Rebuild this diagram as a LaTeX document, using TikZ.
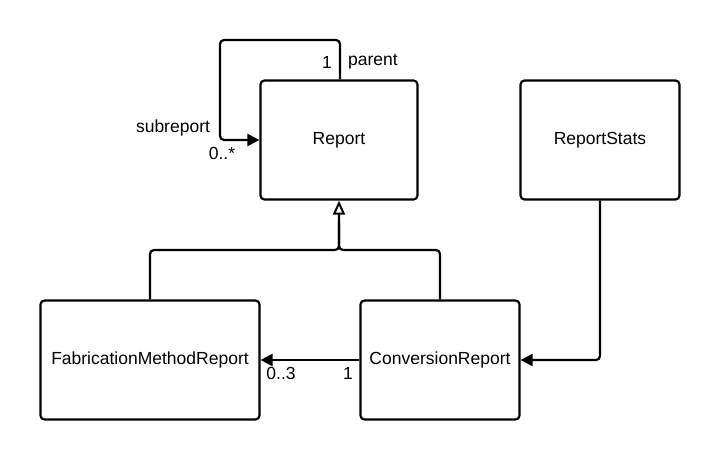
\documentclass[tikz,border=0pt]{standalone}
\usepackage{fontspec}
\setmainfont{Liberation Sans}
\usetikzlibrary{arrows.meta}
\begin{document}
\begin{tikzpicture}[x=1pt,y=-1pt,
  cls/.style={draw,line width=2.2pt,rounded corners=4pt,minimum height=119pt,inner sep=0pt,font=\fontsize{17.5}{21}\selectfont,fill=white},
  conn/.style={line width=2.2pt,rounded corners=4pt},
  lbl/.style={font=\fontsize{17.5}{21}\selectfont,inner sep=0pt},
  assoc/.style={conn,-{Triangle[length=12pt,width=12pt]}},
  gen/.style={conn,-{Triangle[open,length=14pt,width=12pt,line width=2pt]}}]
\useasboundingbox (0,0) rectangle (720,460);
\fill[white] (0,0) rectangle (720,460);
\node[cls,minimum width=157pt] (report) at (339,140) {Report};
\node[cls,minimum width=159pt] (stats) at (600,140) {ReportStats};
\node[cls,minimum width=219pt] (fab) at (150,360) {FabricationMethodReport};
\node[cls,minimum width=159pt] (conv) at (440,360) {ConversionReport};
\coordinate (lt) at (220,40);
\coordinate (j) at (339,250);
\coordinate (jt) at (339,222);
% self association
\draw[assoc] ([xshift=1pt]report.north) |- (lt) |- (report.west);
% generalization
\draw[gen] (fab.north) |- (j) -- (report.south);
\draw[conn] (conv.north) |- (j) -- (jt);
% associations
\draw[assoc] (conv.west) -- (fab.east);
\draw[assoc] (stats.south) |- (conv.east);
% labels
\node[lbl] (l1) at (327,62) {1};
\node[lbl] (lparent) at (373,62) {parent};
\node[lbl] (lsub) at (173,128) {subreport};
\node[lbl] (lmany) at (222,153) {0..*};
\node[lbl] (l03) at (281,373) {0..3};
\node[lbl] (l1b) at (348,373) {1};
\end{tikzpicture}
\end{document}
